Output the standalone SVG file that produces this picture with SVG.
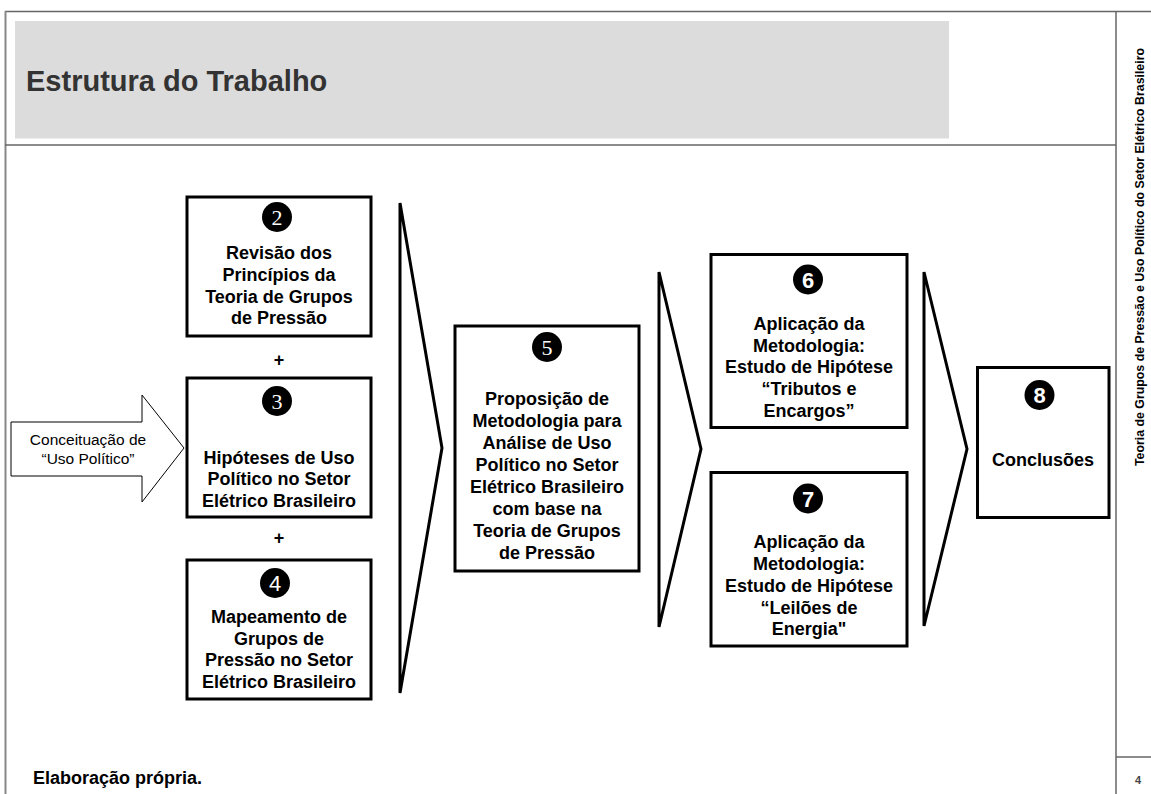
<svg xmlns="http://www.w3.org/2000/svg" width="1151" height="794" viewBox="0 0 1151 794">
<style>
.frame{stroke:#666;stroke-width:1.5;fill:none}
.box{fill:#fff;stroke:#000;stroke-width:3}
.chev{fill:#fff;stroke:#000;stroke-width:3;stroke-linejoin:miter}
.lbl{font-family:"Liberation Sans",Arial,sans-serif;font-weight:bold;font-size:18px;fill:#000;text-anchor:middle}
.num{fill:#000}
.dig{font-size:22px;fill:#fff;text-anchor:middle}
.serif{font-family:"Liberation Serif","Times New Roman",serif}
.sans{font-family:"Liberation Sans",Arial,sans-serif}
</style>
<rect x="0" y="0" width="1151" height="794" fill="#fff"/>
<g id="frame">
<line class="frame" x1="5" y1="11.5" x2="1151" y2="11.5"/>
<line x1="5.5" y1="11" x2="5.5" y2="794" stroke="#888" stroke-width="2"/>
<line class="frame" x1="5" y1="145" x2="1116" y2="145"/>
<line class="frame" x1="1116" y1="11" x2="1116" y2="794"/>
<line class="frame" x1="1116" y1="757" x2="1151" y2="757"/>
<rect x="15" y="21" width="934" height="117.5" fill="#dcdcdc"/>
<text x="26" y="91" font-family="Liberation Sans,Arial,sans-serif" font-weight="bold" font-size="29" fill="#333">Estrutura do Trabalho</text>
<text transform="translate(1144,466) rotate(-90)" font-family="Liberation Sans,Arial,sans-serif" font-weight="bold" font-size="12" fill="#000" textLength="418" lengthAdjust="spacingAndGlyphs">Teoria de Grupos de Pressão e Uso Político do Setor Elétrico Brasileiro</text>
<text x="1138" y="784" font-family="Liberation Sans,Arial,sans-serif" font-weight="bold" font-size="11" fill="#444" text-anchor="middle">4</text>
<text x="33" y="784" font-family="Liberation Sans,Arial,sans-serif" font-weight="bold" font-size="18" fill="#000">Elaboração própria.</text>
</g>
<g id="connectors">
<polygon class="chev" points="400,203 442,448 400,693"/>
<polygon class="chev" points="659,272 701,449 659,627"/>
<polygon class="chev" points="924,272 967,449 924,626"/>
<text class="lbl" x="279" y="366">+</text>
<text class="lbl" x="279" y="544">+</text>
</g>
<g id="input-arrow">
<polygon points="11,422 142,422 142,395 184,448 142,502 142,476 11,476" fill="#fff" stroke="#000" stroke-width="1"/>
<text x="88" y="445" font-family="Liberation Sans,Arial,sans-serif" font-size="15.5" text-anchor="middle">Conceituação de</text>
<text x="88" y="464" font-family="Liberation Sans,Arial,sans-serif" font-size="15.5" text-anchor="middle">“Uso Político”</text>
</g>
<g id="node2">
<rect class="box" x="187" y="197" width="184" height="139"/>
<circle class="num" cx="277" cy="217" r="15"/>
<text class="dig serif" x="277" y="225">2</text>
<text class="lbl" x="279" y="259">Revisão dos</text>
<text class="lbl" x="279" y="281">Princípios da</text>
<text class="lbl" x="279" y="302.5">Teoria de Grupos</text>
<text class="lbl" x="279" y="324">de Pressão</text>
</g>
<g id="node3">
<rect class="box" x="187" y="378" width="184" height="139"/>
<circle class="num" cx="277" cy="401" r="15"/>
<text class="dig serif" x="277" y="409">3</text>
<text class="lbl" x="279" y="463.5">Hipóteses de Uso</text>
<text class="lbl" x="279" y="485">Político no Setor</text>
<text class="lbl" x="279" y="507">Elétrico Brasileiro</text>
</g>
<g id="node4">
<rect class="box" x="187" y="560" width="184" height="139"/>
<circle class="num" cx="275" cy="583" r="15"/>
<text class="dig sans" x="275" y="591">4</text>
<text class="lbl" x="279" y="623">Mapeamento de</text>
<text class="lbl" x="279" y="644.5">Grupos de</text>
<text class="lbl" x="279" y="666">Pressão no Setor</text>
<text class="lbl" x="279" y="687.5">Elétrico Brasileiro</text>
</g>
<g id="node5">
<rect class="box" x="455" y="326" width="184" height="245"/>
<circle class="num" cx="547" cy="347" r="15"/>
<text class="dig serif" x="547" y="355">5</text>
<text class="lbl" x="547" y="405">Proposição de</text>
<text class="lbl" x="547" y="427">Metodologia para</text>
<text class="lbl" x="547" y="449">Análise de Uso</text>
<text class="lbl" x="547" y="471">Político no Setor</text>
<text class="lbl" x="547" y="493">Elétrico Brasileiro</text>
<text class="lbl" x="547" y="515">com base na</text>
<text class="lbl" x="547" y="537">Teoria de Grupos</text>
<text class="lbl" x="547" y="558.5">de Pressão</text>
</g>
<g id="node6">
<rect class="box" x="711" y="254.5" width="196" height="173"/>
<circle class="num" cx="808" cy="279.5" r="15"/>
<text class="dig sans" x="808" y="287.5" font-weight="bold">6</text>
<text class="lbl" x="809" y="329.5">Aplicação da</text>
<text class="lbl" x="809" y="351.5">Metodologia:</text>
<text class="lbl" x="809" y="373">Estudo de Hipótese</text>
<text class="lbl" x="809" y="394.5">“Tributos e</text>
<text class="lbl" x="809" y="416.5">Encargos”</text>
</g>
<g id="node7">
<rect class="box" x="711" y="472.5" width="196" height="173.5"/>
<circle class="num" cx="808" cy="498.5" r="15"/>
<text class="dig sans" x="808" y="506.5" font-weight="bold">7</text>
<text class="lbl" x="809" y="548">Aplicação da</text>
<text class="lbl" x="809" y="569.5">Metodologia:</text>
<text class="lbl" x="809" y="591.5">Estudo de Hipótese</text>
<text class="lbl" x="809" y="613.5">“Leilões de</text>
<text class="lbl" x="809" y="635">Energia"</text>
</g>
<g id="node8">
<rect class="box" x="977.5" y="367.5" width="131.5" height="150"/>
<circle class="num" cx="1039.5" cy="395" r="15"/>
<text class="dig sans" x="1039.5" y="403" font-weight="bold">8</text>
<text class="lbl" x="1043" y="466">Conclusões</text>
</g>
</svg>
